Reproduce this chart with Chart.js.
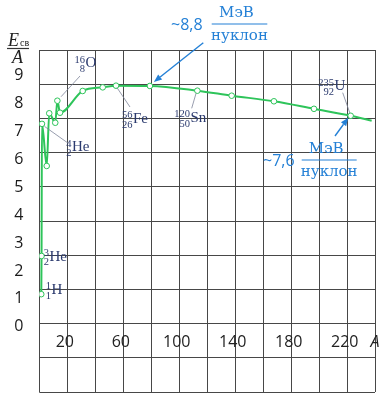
<!DOCTYPE html>
<html lang="ru">
<head>
  <meta charset="UTF-8">
  <title>Удельная энергия связи</title>
  <script src="https://cdn.jsdelivr.net/npm/chart.js"></script>
  <style>
    * { box-sizing: border-box; margin: 0; padding: 0; }
    body { background: #fff; width: 390px; height: 393px; overflow: hidden; }
  </style>
</head>
<body>
  <canvas id="chart" width="390" height="393"></canvas>

  <script>
    // mass number A
    const massNumbers = [1.4, 1.6, 1.9, 5.3, 7.1, 11.4, 12.9, 14.8, 31, 45.3, 54.8, 79, 112.9, 137.4, 167.6, 196.2, 222.4, 237.4];
    // E_св / A, МэВ per nucleon
    const bindingPerNucleon = [1.17, 2.54, 7.28, 5.77, 7.66, 7.32, 8.11, 7.68, 8.46, 8.59, 8.65, 8.64, 8.47, 8.29, 8.09, 7.82, 7.57, 7.39];
    const yTickLabels = [0, 1, 2, 3, 4, 5, 6, 7, 8, 9];
    const xTickLabels = [20, 60, 100, 140, 180, 220];

    // nuclide labels: symbol, mass number, charge
    const nuclideSymbols = ['H', 'He', 'He', 'O', 'Fe', 'Sn', 'U'];
    const nuclideMass = ['1', '3', '4', '16', '56', '120', '235'];
    const nuclideCharge = ['1', '2', '2', '8', '26', '50', '92'];

    const green = '#2ec45a';
    const navy = '#2b3a6e';
    const blue = '#2480d6';
    const gridColor = '#474747';

    function nuclide(ctx, i, x, y) {
      ctx.fillStyle = navy;
      ctx.font = '15px "Liberation Serif"';
      ctx.textAlign = 'left';
      ctx.textBaseline = 'middle';
      ctx.fillText(nuclideSymbols[i], x, y);
      ctx.font = '10.5px "Liberation Serif"';
      ctx.textAlign = 'right';
      ctx.textBaseline = 'alphabetic';
      ctx.fillText(nuclideMass[i], x - 0.5, y - 1);
      ctx.fillText(nuclideCharge[i], x - 0.5, y + 8.5);
    }

    function leader(ctx, x1, y1, x2, y2) {
      ctx.strokeStyle = '#7d8499';
      ctx.lineWidth = 0.8;
      ctx.beginPath();
      ctx.moveTo(x1, y1);
      ctx.lineTo(x2, y2);
      ctx.stroke();
    }

    function arrow(ctx, x1, y1, x2, y2) {
      const a = Math.atan2(y2 - y1, x2 - x1);
      const head = 8, w = 3.2;
      const bx = x2 - head * Math.cos(a), by = y2 - head * Math.sin(a);
      ctx.strokeStyle = blue;
      ctx.fillStyle = blue;
      ctx.lineWidth = 1.4;
      ctx.beginPath();
      ctx.moveTo(x1, y1);
      ctx.lineTo(bx, by);
      ctx.stroke();
      ctx.beginPath();
      ctx.moveTo(x2, y2);
      ctx.lineTo(bx + w * Math.sin(a), by - w * Math.cos(a));
      ctx.lineTo(bx - w * Math.sin(a), by + w * Math.cos(a));
      ctx.closePath();
      ctx.fill();
    }

    function fraction(ctx, lead, leadX, barX1, barX2, barY) {
      ctx.fillStyle = blue;
      ctx.textBaseline = 'middle';
      ctx.textAlign = 'left';
      ctx.font = '16px "Open Sans"';
      ctx.fillText(lead, leadX, barY + 1);
      const cx = (barX1 + barX2) / 2;
      ctx.textAlign = 'center';
      ctx.textBaseline = 'alphabetic';
      ctx.font = '15px "DejaVu Serif"';
      ctx.fillText('МэВ', cx - 3, barY - 7);
      ctx.fillText('нуклон', cx, barY + 16);
      ctx.strokeStyle = blue;
      ctx.lineWidth = 1.2;
      ctx.beginPath();
      ctx.moveTo(barX1, barY);
      ctx.lineTo(barX2, barY);
      ctx.stroke();
    }

    const annotations = {
      id: 'annotations',
      afterDraw(chart) {
        const ctx = chart.ctx;
        const xs = chart.scales.x, ys = chart.scales.yv;
        const px = i => xs.getPixelForValue(massNumbers[i]);
        const py = i => ys.getPixelForValue(bindingPerNucleon[i]);
        ctx.save();

        // x tick labels inside the grid
        ctx.fillStyle = '#222';
        ctx.font = '16px "Open Sans"';
        ctx.textAlign = 'center';
        ctx.textBaseline = 'middle';
        xTickLabels.forEach(v => ctx.fillText(String(v), xs.getPixelForValue(v) - 2.5, 342));
        ctx.font = 'italic 16px "Open Sans"';
        ctx.fillText('A', 375, 342);

        // y title E_св / A
        ctx.fillStyle = '#222';
        ctx.textAlign = 'left';
        ctx.textBaseline = 'alphabetic';
        ctx.font = 'italic 18px "Liberation Serif"';
        ctx.fillText('E', 8, 45.5);
        ctx.font = '10px "Liberation Serif"';
        ctx.fillText('св', 20, 46);
        ctx.font = 'italic 18px "Liberation Serif"';
        ctx.textAlign = 'center';
        ctx.fillText('A', 17.5, 63);
        ctx.strokeStyle = '#333';
        ctx.lineWidth = 1.2;
        ctx.beginPath();
        ctx.moveTo(7, 48.5);
        ctx.lineTo(29, 48.5);
        ctx.stroke();

        // leader lines to the nuclide labels
        leader(ctx, px(2) + 2.5, py(2) + 2.5, 68.3, 143.3);
        leader(ctx, px(6) + 3.7, py(6) - 4, 80, 76);
        leader(ctx, px(10) + 1, py(10) + 2, 130, 107);
        leader(ctx, px(12) - 1.3, py(12) + 2.6, 191.7, 108.3);
        leader(ctx, px(16) - 0.7, py(16) - 2.4, 342.7, 92.7);

        nuclide(ctx, 0, 51.5, 290);
        nuclide(ctx, 1, 49.5, 256.7);
        nuclide(ctx, 2, 72, 147.5);
        nuclide(ctx, 3, 85.5, 63.5);
        nuclide(ctx, 4, 133, 119);
        nuclide(ctx, 5, 190.5, 118);
        nuclide(ctx, 6, 334.5, 86.5);

        // blue callouts
        arrow(ctx, 203.3, 42.7, px(11) + 4, py(11) - 4);
        fraction(ctx, '~8,8', 171, 211.7, 267.3, 24);
        arrow(ctx, 335, 136, px(16) - 2.4, py(16) + 2);
        fraction(ctx, '~7,6', 263, 301.7, 356.7, 160);

        ctx.restore();
      }
    };

    new Chart(document.getElementById('chart'), {
      type: 'line',
      data: {
        datasets: [{
          data: massNumbers.map((a, i) => ({ x: a, y: bindingPerNucleon[i] })),
          yAxisID: 'yv',
          borderColor: green,
          borderWidth: 2,
          cubicInterpolationMode: 'monotone',
          pointRadius: ctx => ctx.dataIndex === massNumbers.length - 1 ? 0 : 2.8,
          pointBackgroundColor: '#fff',
          pointBorderColor: green,
          pointBorderWidth: 1
        }]
      },
      options: {
        responsive: false,
        animation: false,
        devicePixelRatio: 1,
        // autoPadding would keep ~5px free under the grid for the point markers
        layout: { autoPadding: false, padding: { top: 50, right: 14.7, bottom: 1, left: 0 } },
        plugins: { legend: { display: false }, tooltip: { enabled: false } },
        scales: {
          x: {
            type: 'linear',
            min: 0,
            max: 240,
            ticks: { stepSize: 20, display: false },
            grid: { color: gridColor, lineWidth: 1, drawTicks: false },
            border: { display: false },
            afterFit: s => { s.height = 0; }
          },
          yv: {
            position: 'left',
            min: -2.34,
            max: 9.93,
            ticks: {
              stepSize: 1,
              includeBounds: false,
              padding: 16,
              color: '#1a1a1a',
              font: { family: 'Open Sans', size: 16 },
              callback: v => yTickLabels.includes(v) ? String(v) : ''
            },
            grid: { display: false, drawTicks: false },
            border: { display: false },
            afterFit: s => { s.width = 39.3; s.paddingTop = 0; s.paddingBottom = 0; }
          },
          yg: {
            position: 'right',
            min: 0,
            max: 10,
            ticks: { stepSize: 1, display: false },
            grid: { color: gridColor, lineWidth: 1, drawTicks: false },
            border: { display: false },
            afterFit: s => { s.width = 0; s.paddingTop = 0; s.paddingBottom = 0; }
          }
        }
      },
      plugins: [annotations]
    });
  </script>
</body>
</html>
